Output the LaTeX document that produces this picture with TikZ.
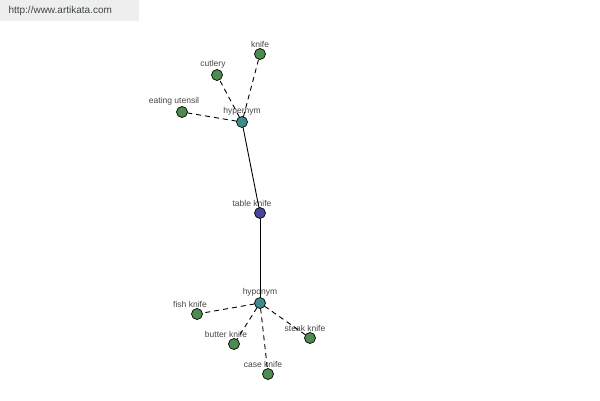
\documentclass[tikz,border=0pt]{standalone}
\usepackage{fontspec}
\setmainfont{Liberation Sans}
\usepackage{tikz}
\definecolor{leafgreen}{RGB}{76,140,76}
\definecolor{relteal}{RGB}{60,142,142}
\definecolor{rootblue}{RGB}{70,70,160}
\definecolor{labelgray}{RGB}{70,70,70}
\definecolor{bannergray}{RGB}{238,238,238}
\definecolor{bannertext}{RGB}{60,72,60}
\tikzset{
    point/.style={circle,draw,line width=0.7pt,minimum size=11pt,inner sep=0pt,outer sep=0pt},
    leaf/.style={point,fill=leafgreen},
    rel/.style={point,fill=relteal},
    root/.style={point,fill=rootblue},
    every label/.append style={labelgray,font=\fontsize{8.5}{9}\selectfont,inner sep=1pt,label distance=0pt},
    link/.style={line width=0.9pt,dash pattern=on 5pt off 4pt},
    stem/.style={line width=0.9pt}
}

\begin{document}
\begin{tikzpicture}[x=1pt,y=-1pt]
                            \useasboundingbox (0,0) rectangle (600,400);
                            \fill[bannergray] (0,0) rectangle (139,21);
                            \node[bannertext,font=\fontsize{10}{12}\selectfont,anchor=west] (site) at (5,11) {http://www.artikata.com};
                            % centre and the two relations
                            \node[root,label={[xshift=-8pt]above:table knife}] (table) at (260,213) {};
                            \node[rel,label=above:hypernym] (hyper) at (242,122) {};
                            \node[rel,label=above:hyponym] (hypo) at (260,303) {};
                            % hypernyms
                            \node[leaf,label=above:knife] (knife) at (260,54) {};
                            \node[leaf,label={[xshift=-4pt]above:cutlery}] (cutlery) at (217,75) {};
                            \node[leaf,label={[xshift=-8pt]above:eating utensil}] (utensil) at (182,112) {};
                            % hyponyms
                            \node[leaf,label={[xshift=-7pt]above:fish knife}] (fish) at (197,314) {};
                            \node[leaf,label={[xshift=-8pt]above:butter knife}] (butter) at (234,344) {};
                            \node[leaf,label={[xshift=-5pt]above:steak knife}] (steak) at (310,338) {};
                            \node[leaf,label={[xshift=-5pt]above:case knife}] (case) at (268,374) {};
                            \draw[stem] (hyper) -- (table);
                            \draw[stem] (table) -- (hypo);
                            \draw[link] (hyper) -- (knife);
                            \draw[link] (hyper) -- (cutlery);
                            \draw[link] (hyper) -- (utensil);
                            \draw[link] (hypo) -- (fish);
                            \draw[link] (hypo) -- (butter);
                            \draw[link] (hypo) -- (steak);
                            \draw[link] (hypo) -- (case);
                        \end{tikzpicture}
\end{document}
